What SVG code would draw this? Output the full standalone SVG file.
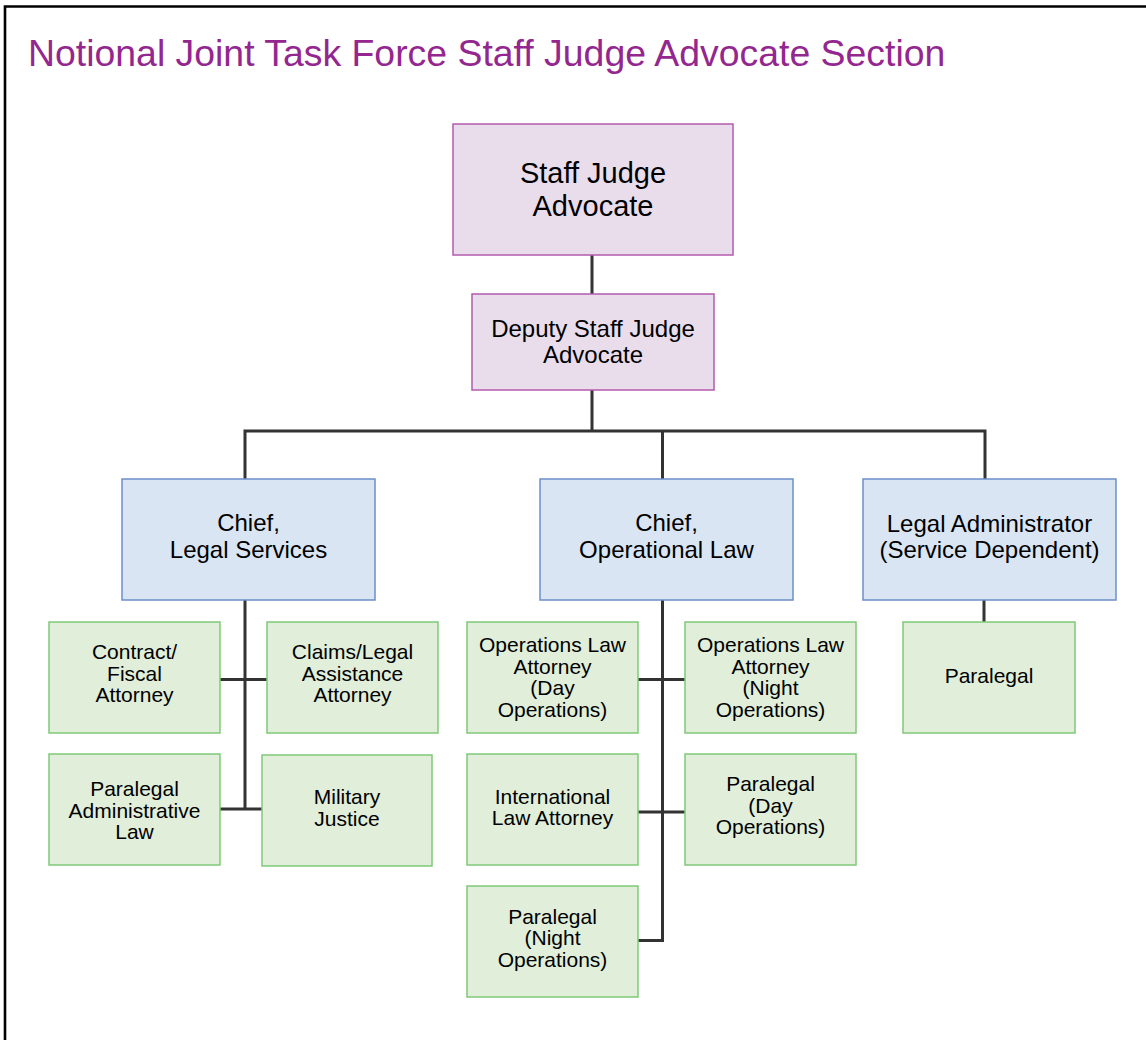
<svg xmlns="http://www.w3.org/2000/svg" width="1146" height="1040" viewBox="0 0 1146 1040">
<style>
text{font-family:"Liberation Sans",Arial,sans-serif;fill:#000;text-anchor:middle}
.t{font-size:37.4px;fill:#93278F;text-anchor:start}
.p{fill:#E9DDEC;stroke:#B35BAF;stroke-width:1.5}
.b{fill:#DAE5F3;stroke:#6C8EC8;stroke-width:1.5}
.g{fill:#E0EEDA;stroke:#80C978;stroke-width:1.5}
.f29{font-size:29px}
.f24{font-size:24px}
.f21{font-size:21px}
.c{fill:none;stroke:#333;stroke-width:3}
</style>
<rect x="0" y="0" width="1146" height="1040" fill="#fff"/>
<path d="M5,1040 V6.5 H1146" fill="none" stroke="#000" stroke-width="2.6"/>
<text class="t" x="28" y="65.5">Notional Joint Task Force Staff Judge Advocate Section</text>
<g id="connectors">
<path class="c" d="M592,255 V294"/>
<path class="c" d="M592,390 V431"/>
<path class="c" d="M245,479 V431 H985 V479"/>
<path class="c" d="M662.5,431 V479"/>
<path class="c" d="M245,600 V809"/>
<path class="c" d="M220,679.5 H267"/>
<path class="c" d="M220,809 H262"/>
<path class="c" d="M662.5,600 V940.5 H638"/>
<path class="c" d="M638,679.5 H685"/>
<path class="c" d="M638,812 H685"/>
<path class="c" d="M984,600 V622"/>
</g>
<g id="sja"><rect class="p" x="453" y="124" width="280" height="131"/><text class="f29" x="593" y="183">Staff Judge</text><text class="f29" x="593" y="215.5">Advocate</text></g>
<g id="dsja"><rect class="p" x="472" y="294" width="242" height="96"/><text class="f24" x="593" y="336.5">Deputy Staff Judge</text><text class="f24" x="593" y="363">Advocate</text></g>
<g id="chief-legal"><rect class="b" x="122" y="479" width="253" height="121"/><text class="f24" x="248.5" y="531">Chief,</text><text class="f24" x="248.5" y="557.5">Legal Services</text></g>
<g id="chief-ops"><rect class="b" x="540" y="479" width="253" height="121"/><text class="f24" x="666.5" y="531">Chief,</text><text class="f24" x="666.5" y="557.5">Operational Law</text></g>
<g id="legal-admin"><rect class="b" x="863" y="479" width="253" height="121"/><text class="f24" x="989.5" y="531.5">Legal Administrator</text><text class="f24" x="989.5" y="558">(Service Dependent)</text></g>
<g id="contract"><rect class="g" x="49" y="622" width="171" height="111"/><text class="f21" x="134.5" y="659">Contract/</text><text class="f21" x="134.5" y="680.5">Fiscal</text><text class="f21" x="134.5" y="702">Attorney</text></g>
<g id="claims"><rect class="g" x="267" y="622" width="171" height="111"/><text class="f21" x="352.5" y="659">Claims/Legal</text><text class="f21" x="352.5" y="680.5">Assistance</text><text class="f21" x="352.5" y="702">Attorney</text></g>
<g id="paralegal-admin"><rect class="g" x="49" y="754" width="171" height="111"/><text class="f21" x="134.5" y="796">Paralegal</text><text class="f21" x="134.5" y="817.5">Administrative</text><text class="f21" x="134.5" y="839">Law</text></g>
<g id="military-justice"><rect class="g" x="262" y="755" width="170" height="111"/><text class="f21" x="347" y="803.5">Military</text><text class="f21" x="347" y="825.5">Justice</text></g>
<g id="ops-day"><rect class="g" x="467" y="622" width="171" height="111"/><text class="f21" x="552.5" y="652">Operations Law</text><text class="f21" x="552.5" y="673.5">Attorney</text><text class="f21" x="552.5" y="695">(Day</text><text class="f21" x="552.5" y="716.5">Operations)</text></g>
<g id="ops-night"><rect class="g" x="685" y="622" width="171" height="111"/><text class="f21" x="770.5" y="652">Operations Law</text><text class="f21" x="770.5" y="673.5">Attorney</text><text class="f21" x="770.5" y="695">(Night</text><text class="f21" x="770.5" y="716.5">Operations)</text></g>
<g id="intl-law"><rect class="g" x="467" y="754" width="171" height="111"/><text class="f21" x="552.5" y="803.5">International</text><text class="f21" x="552.5" y="824.5">Law Attorney</text></g>
<g id="paralegal-day"><rect class="g" x="685" y="754" width="171" height="111"/><text class="f21" x="770.5" y="791">Paralegal</text><text class="f21" x="770.5" y="812.5">(Day</text><text class="f21" x="770.5" y="834">Operations)</text></g>
<g id="paralegal-night"><rect class="g" x="467" y="886" width="171" height="111"/><text class="f21" x="552.5" y="923.5">Paralegal</text><text class="f21" x="552.5" y="945">(Night</text><text class="f21" x="552.5" y="966.5">Operations)</text></g>
<g id="paralegal"><rect class="g" x="903" y="622" width="172" height="111"/><text class="f21" x="989" y="683">Paralegal</text></g>
</svg>
